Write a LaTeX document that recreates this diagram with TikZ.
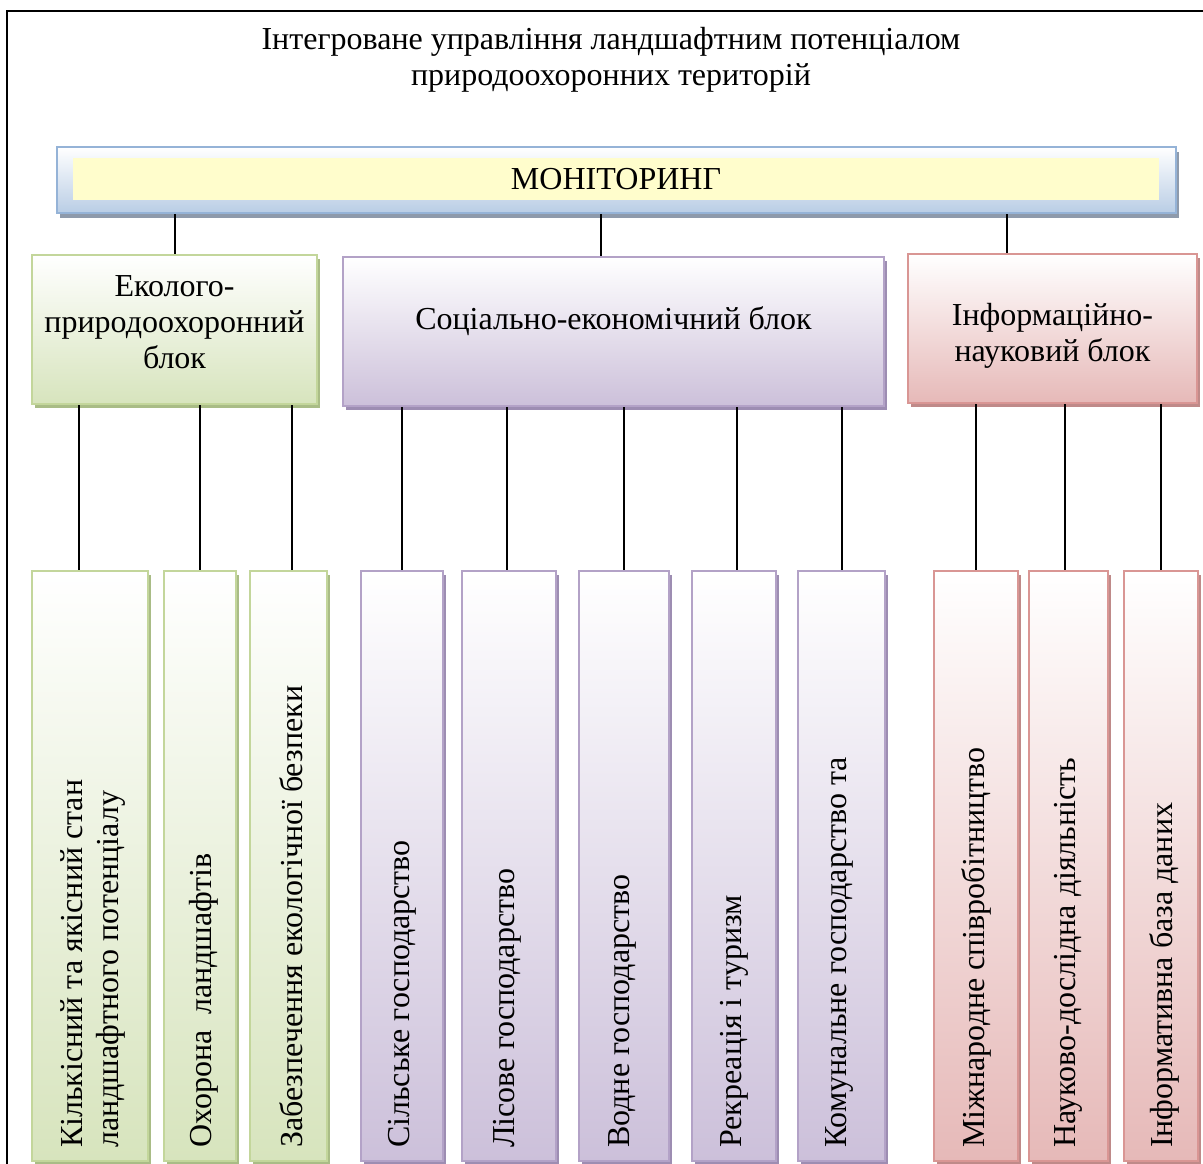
\documentclass[tikz,border=0pt]{standalone}
\usepackage{fontspec}
\setmainfont{Liberation Serif}
\usetikzlibrary{shadows,calc,shadings}
\definecolor{monborder}{HTML}{95B3D7}
\definecolor{monbottom}{HTML}{B9CDE5}
\definecolor{monshadow}{HTML}{8E9AAB}
\definecolor{monyellow}{HTML}{FFFDCC}
\definecolor{gborder}{HTML}{C3D69B}
\definecolor{gbottom}{HTML}{D7E4BD}
\definecolor{gshadow}{HTML}{A9BC86}
\definecolor{pborder}{HTML}{B3A2C7}
\definecolor{pbottom}{HTML}{CCC0DA}
\definecolor{pshadow}{HTML}{9D8DB2}
\definecolor{rborder}{HTML}{D99694}
\definecolor{rbottom}{HTML}{E6B9B8}
\definecolor{rshadow}{HTML}{BF8A89}
\newcommand{\dfont}{\fontsize{32}{36}\selectfont}
\tikzset{
  basebox/.style={rectangle, inner sep=0pt, anchor=north west, line width=2pt, top color=white},
  gbox/.style={basebox, draw=gborder, bottom color=gbottom, drop shadow={shadow xshift=3pt, shadow yshift=-4pt, fill=gshadow, opacity=1}},
  pbox/.style={basebox, draw=pborder, bottom color=pbottom, drop shadow={shadow xshift=3pt, shadow yshift=-4pt, fill=pshadow, opacity=1}},
  rbox/.style={basebox, draw=rborder, bottom color=rbottom, drop shadow={shadow xshift=3pt, shadow yshift=-4pt, fill=rshadow, opacity=1}},
  blocktext/.style={font=\dfont, align=center, inner sep=0pt},
  colbox/.style={minimum height=590pt},
  vtext/.style={rotate=90, anchor=west, inner sep=0pt, align=left, font=\dfont},
  conn/.style={line width=2pt, black}
}
\begin{document}
\begin{tikzpicture}[x=1pt,y=-1pt]
\useasboundingbox (0,0) rectangle (1203,1163);
\fill[white] (0,0) rectangle (1203,1163);
\draw[line width=2.5pt] (7,1170) -- (7,11) -- (1210,11);

\node[font=\dfont, align=center, inner sep=0pt] (title) at (611,60)
  {Інтегроване управління ландшафтним потенціалом\\природоохоронних територій};

% monitoring bar
\node[basebox, draw=monborder, bottom color=monbottom, minimum width=1119pt, minimum height=66pt,
  drop shadow={shadow xshift=3pt, shadow yshift=-5pt, fill=monshadow, opacity=1}] (mon) at (56,146) {};
\node[fill=monyellow, inner sep=0pt, minimum width=1086pt, minimum height=42pt, font=\dfont] (moninner) at (616,179) {МОНІТОРИНГ};

% blocks
\node[gbox, minimum width=285pt, minimum height=149pt] (eco) at (31,254) {};
\node[pbox, minimum width=541pt, minimum height=149pt] (soc) at (342,256) {};
\node[rbox, minimum width=289pt, minimum height=149pt] (inf) at (907,253) {};
\node[blocktext] (ecotext) at ([yshift=7pt]eco.center) {Еколого-\\природоохоронний\\блок};
\node[blocktext] (soctext) at ([yshift=10pt]soc.center) {Соціально-економічний блок};
\node[blocktext] (inftext) at ([yshift=-7pt]inf.center) {Інформаційно-\\науковий блок};

\draw[conn] (eco.north |- mon.south) -- (eco.north);
\draw[conn] ([xshift=-12.5pt]soc.north |- mon.south) -- ([xshift=-12.5pt]soc.north);
\draw[conn] ([xshift=-46pt]inf.north |- mon.south) -- ([xshift=-46pt]inf.north);

% columns
\node[gbox, colbox, minimum width=116pt] (g1) at (31,570) {};
\node[gbox, colbox, minimum width=72pt] (g2) at (163,570) {};
\node[gbox, colbox, minimum width=77pt] (g3) at (249,570) {};
\node[pbox, colbox, minimum width=82pt] (p1) at (360,570) {};
\node[pbox, colbox, minimum width=94pt] (p2) at (461,570) {};
\node[pbox, colbox, minimum width=90pt] (p3) at (578,570) {};
\node[pbox, colbox, minimum width=84pt] (p4) at (691,570) {};
\node[pbox, colbox, minimum width=87pt] (p5) at (797,570) {};
\node[rbox, colbox, minimum width=84pt] (r1) at (933,570) {};
\node[rbox, colbox, minimum width=79pt] (r2) at (1028,570) {};
\node[rbox, colbox, minimum width=74pt] (r3) at (1123,570) {};

\node[vtext] (tg1) at ([xshift=3pt,yshift=14pt]g1.south) {Кількісний та якісний стан\\ландшафтного потенціалу};
\node[vtext] (tg2) at ([xshift=4pt,yshift=14pt]g2.south) {Охорона\ \ ландшафтів};
\node[vtext] (tg3) at ([xshift=3pt,yshift=14pt]g3.south) {Забезпечення екологічної безпеки};
\node[vtext] (tp1) at ([yshift=14pt]p1.south) {Сільське господарство};
\node[vtext] (tp2) at ([xshift=-2pt,yshift=14pt]p2.south) {Лісове господарство};
\node[vtext] (tp3) at ([xshift=-2pt,yshift=14pt]p3.south) {Водне господарство};
\node[vtext] (tp4) at ([yshift=14pt]p4.south) {Рекреація і туризм};
\node[vtext] (tp5) at ([xshift=-2pt,yshift=14pt]p5.south) {Комунальне господарство та};
\node[vtext] (tr1) at ([yshift=14pt]r1.south) {Міжнародне співробітництво};
\node[vtext] (tr2) at ([yshift=14pt]r2.south) {Науково-дослідна діяльність};
\node[vtext] (tr3) at ([xshift=3pt,yshift=14pt]r3.south) {Інформативна база даних};

\draw[conn] ([xshift=-11pt]g1.north |- eco.south) -- ([xshift=-11pt]g1.north);
\draw[conn] (g2.north |- eco.south) -- (g2.north);
\draw[conn] ([xshift=3.5pt]g3.north |- eco.south) -- ([xshift=3.5pt]g3.north);
\draw[conn] (p1.north |- soc.south) -- (p1.north);
\draw[conn] ([xshift=-2pt]p2.north |- soc.south) -- ([xshift=-2pt]p2.north);
\draw[conn] (p3.north |- soc.south) -- (p3.north);
\draw[conn] ([xshift=3pt]p4.north |- soc.south) -- ([xshift=3pt]p4.north);
\draw[conn] (p5.north |- soc.south) -- (p5.north);
\draw[conn] (r1.north |- inf.south) -- (r1.north);
\draw[conn] ([xshift=-3.5pt]r2.north |- inf.south) -- ([xshift=-3.5pt]r2.north);
\draw[conn] (r3.north |- inf.south) -- (r3.north);
\end{tikzpicture}
\end{document}
